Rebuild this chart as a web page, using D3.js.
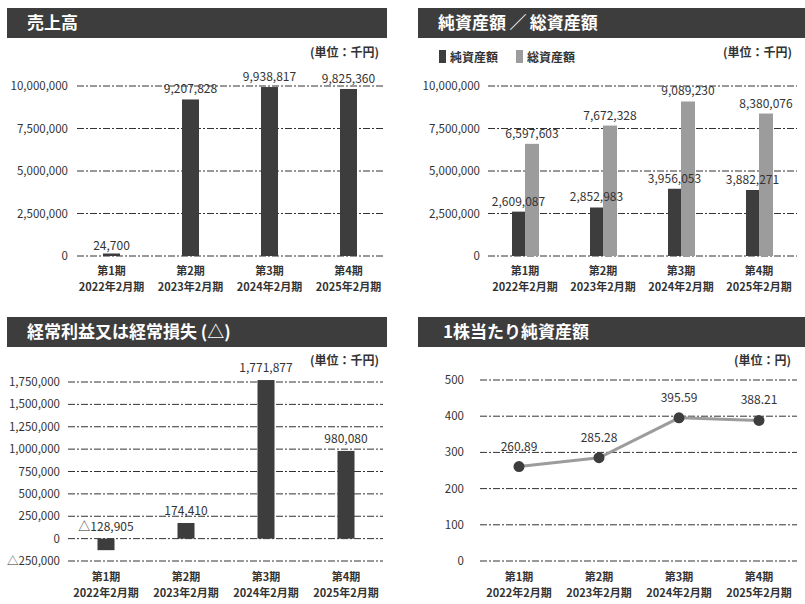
<!DOCTYPE html>
<html>
<head>
<meta charset="utf-8">
<script src="https://cdn.jsdelivr.net/npm/d3@7"></script>
<style>
  body { margin: 0; background: #fff; }
  svg text { font-family: "Noto Sans CJK JP", "Noto Sans", sans-serif; fill: #333; }
</style>
</head>
<body>
<svg id="svg"></svg>
<script>
// data
const periods = ["第1期", "第2期", "第3期", "第4期"];
const fiscalYears = ["2022年2月期", "2023年2月期", "2024年2月期", "2025年2月期"];

const sales = [24700, 9207828, 9938817, 9825360];
const netAssets = [2609087, 2852983, 3956053, 3882271];
const totalAssets = [6597603, 7672328, 9089230, 8380076];
const ordinaryIncome = [-128905, 174410, 1771877, 980080];
const bookValuePerShare = [260.89, 285.28, 395.59, 388.21];

const salesTicks = [0, 2500000, 5000000, 7500000, 10000000];
const incomeTicks = [-250000, 0, 250000, 500000, 750000, 1000000, 1250000, 1500000, 1750000];
const bpsTicks = [0, 100, 200, 300, 400, 500];

const width = 805;
const height = 604;
const dark = "#3d3d3d";
const light = "#9c9c9d";

let svg = d3.select("#svg").attr("width", width).attr("height", height);

const fmt = d3.format(",");
function fmtSigned(v) {
    return v < 0 ? "\u25B3" + fmt(-v) : fmt(v);
}

function drawHeader(x0, x1, y0, title, tx) {
    svg.append("rect")
        .attr("x", x0).attr("y", y0)
        .attr("width", x1 - x0).attr("height", 30)
        .attr("fill", dark);
    svg.append("text")
        .attr("x", tx).attr("y", y0 + 21)
        .style("font-size", "17px")
        .style("font-weight", "bold")
        .style("fill", "#fff")
        .text(title);
}

function drawUnit(x, y, label) {
    svg.append("text")
        .attr("x", x).attr("y", y)
        .attr("text-anchor", "end")
        .style("font-size", "12px")
        .style("font-weight", "bold")
        .text(label);
}

function drawGrid(yScale, ticks, x0, x1, labelX, tickFmt) {
    let g = svg.append("g");
    g.selectAll("line")
        .data(ticks)
        .enter()
        .append("line")
            .attr("x1", x0).attr("x2", x1)
            .attr("y1", d => yScale(d)).attr("y2", d => yScale(d))
            .attr("stroke", "#333")
            .attr("stroke-width", 1)
            .attr("stroke-dasharray", "7,2,2,2");
    g.selectAll("text")
        .data(ticks)
        .enter()
        .append("text")
            .attr("x", labelX)
            .attr("y", d => yScale(d) + 4)
            .attr("text-anchor", "end")
            .style("font-size", "11.5px")
            .text(tickFmt);
}

function drawXLabels(xScale, y) {
    let g = svg.append("g");
    g.selectAll(".p")
        .data(periods)
        .enter()
        .append("text")
            .attr("x", d => xScale(d) + xScale.bandwidth() / 2)
            .attr("y", y)
            .attr("text-anchor", "middle")
            .style("font-size", "11px")
            .style("font-weight", "bold")
            .text(d => d);
    g.selectAll(".f")
        .data(periods)
        .enter()
        .append("text")
            .attr("x", d => xScale(d) + xScale.bandwidth() / 2)
            .attr("y", y + 16)
            .attr("text-anchor", "middle")
            .style("font-size", "11px")
            .style("font-weight", "bold")
            .text((d, i) => fiscalYears[i]);
}

// 売上高
function drawSales() {
    drawHeader(7, 387, 8, "売上高", 27);
    drawUnit(379, 57, "(単位：千円)");

    let x = d3.scaleBand().domain(periods).range([72, 388]);
    let y = d3.scaleLinear().domain([0, 10000000]).range([256, 86]);

    drawGrid(y, salesTicks, 77, 383, 68, d => fmt(d));

    // keep tiny bars visible
    let barTop = d => Math.min(y(d), y(0) - 2.5);

    svg.selectAll(".sales")
        .data(sales)
        .enter()
        .append("rect")
            .attr("x", (d, i) => x(periods[i]) + x.bandwidth() / 2 - 8.5)
            .attr("y", barTop)
            .attr("width", 17)
            .attr("height", d => y(0) - barTop(d))
            .attr("fill", dark);

    svg.selectAll(".salesLabel")
        .data(sales)
        .enter()
        .append("text")
            .attr("x", (d, i) => x(periods[i]) + x.bandwidth() / 2)
            .attr("y", d => y(d) - 6)
            .attr("text-anchor", "middle")
            .style("font-size", "12px")
            .text(d => fmt(d));

    drawXLabels(x, 275);
}

// 純資産額 / 総資産額
function drawAssets() {
    drawHeader(418, 805, 8, "純資産額\u2009／\u2009総資産額", 438);
    drawUnit(792, 57, "(単位：千円)");

    // legend
    svg.append("rect").attr("x", 439).attr("y", 50).attr("width", 7).attr("height", 13).attr("fill", dark);
    svg.append("text").attr("x", 450).attr("y", 62).style("font-size", "12px").style("font-weight", "bold").text("純資産額");
    svg.append("rect").attr("x", 516).attr("y", 50).attr("width", 7).attr("height", 13).attr("fill", light);
    svg.append("text").attr("x", 527).attr("y", 62).style("font-size", "12px").style("font-weight", "bold").text("総資産額");

    let x = d3.scaleBand().domain(periods).range([486, 798]);
    let y = d3.scaleLinear().domain([0, 10000000]).range([256, 86]);

    drawGrid(y, salesTicks, 488, 797, 480, d => fmt(d));

    let series = [
        { values: netAssets, color: dark, offset: -13, w: 13 },
        { values: totalAssets, color: light, offset: 0, w: 14 }
    ];

    // bars first, then labels on top
    series.forEach(s => {
        svg.append("g").selectAll("rect")
            .data(s.values)
            .enter()
            .append("rect")
                .attr("x", (d, i) => x(periods[i]) + x.bandwidth() / 2 + s.offset)
                .attr("y", d => y(d))
                .attr("width", s.w)
                .attr("height", d => y(0) - y(d))
                .attr("fill", s.color);
    });
    series.forEach(s => {
        svg.append("g").selectAll("text")
            .data(s.values)
            .enter()
            .append("text")
                .attr("x", (d, i) => x(periods[i]) + x.bandwidth() / 2 + s.offset + s.w / 2)
                .attr("y", d => y(d) - 6)
                .attr("text-anchor", "middle")
                .style("font-size", "12px")
                .text(d => fmt(d));
    });

    drawXLabels(x, 275);
}

// 経常利益又は経常損失
function drawIncome() {
    drawHeader(7, 387, 317, "経常利益又は経常損失 (△)", 27);
    drawUnit(379, 365, "(単位：千円)");

    let x = d3.scaleBand().domain(periods).range([66, 386]);
    let y = d3.scaleLinear().domain([-250000, 1750000]).range([561, 382]);

    drawGrid(y, incomeTicks, 68, 383, 60, d => fmtSigned(d));

    svg.selectAll(".income")
        .data(ordinaryIncome)
        .enter()
        .append("rect")
            .attr("x", (d, i) => x(periods[i]) + x.bandwidth() / 2 - 8.5)
            .attr("y", d => y(Math.max(0, d)))
            .attr("width", 17)
            .attr("height", d => Math.abs(y(d) - y(0)))
            .attr("fill", dark);

    svg.selectAll(".incomeLabel")
        .data(ordinaryIncome)
        .enter()
        .append("text")
            .attr("x", (d, i) => x(periods[i]) + x.bandwidth() / 2)
            .attr("y", d => y(Math.max(0, d)) - 8)
            .attr("text-anchor", "middle")
            .style("font-size", "12px")
            .text(d => fmtSigned(d));

    drawXLabels(x, 581);
}

// 1株当たり純資産額
function drawBps() {
    drawHeader(418, 805, 317, "1株当たり純資産額", 443);
    drawUnit(791, 365, "(単位：円)");

    let x = d3.scaleBand().domain(periods).range([479, 799]);
    let y = d3.scaleLinear().domain([0, 500]).range([561, 380]);

    drawGrid(y, bpsTicks, 480, 797, 464, d => d);

    let cx = (d, i) => x(periods[i]) + x.bandwidth() / 2;

    let line = d3.line()
        .x((d, i) => cx(d, i))
        .y(d => y(d));

    svg.append("path")
        .datum(bookValuePerShare)
        .attr("d", line)
        .attr("fill", "none")
        .attr("stroke", light)
        .attr("stroke-width", 3);

    svg.selectAll(".bps")
        .data(bookValuePerShare)
        .enter()
        .append("circle")
            .attr("cx", cx)
            .attr("cy", d => y(d))
            .attr("r", 5.5)
            .attr("fill", dark);

    svg.selectAll(".bpsLabel")
        .data(bookValuePerShare)
        .enter()
        .append("text")
            .attr("x", cx)
            .attr("y", d => y(d) - 16)
            .attr("text-anchor", "middle")
            .style("font-size", "12px")
            .text(d => d.toFixed(2));

    drawXLabels(x, 581);
}

drawSales();
drawAssets();
drawIncome();
drawBps();
</script>
</body>
</html>
